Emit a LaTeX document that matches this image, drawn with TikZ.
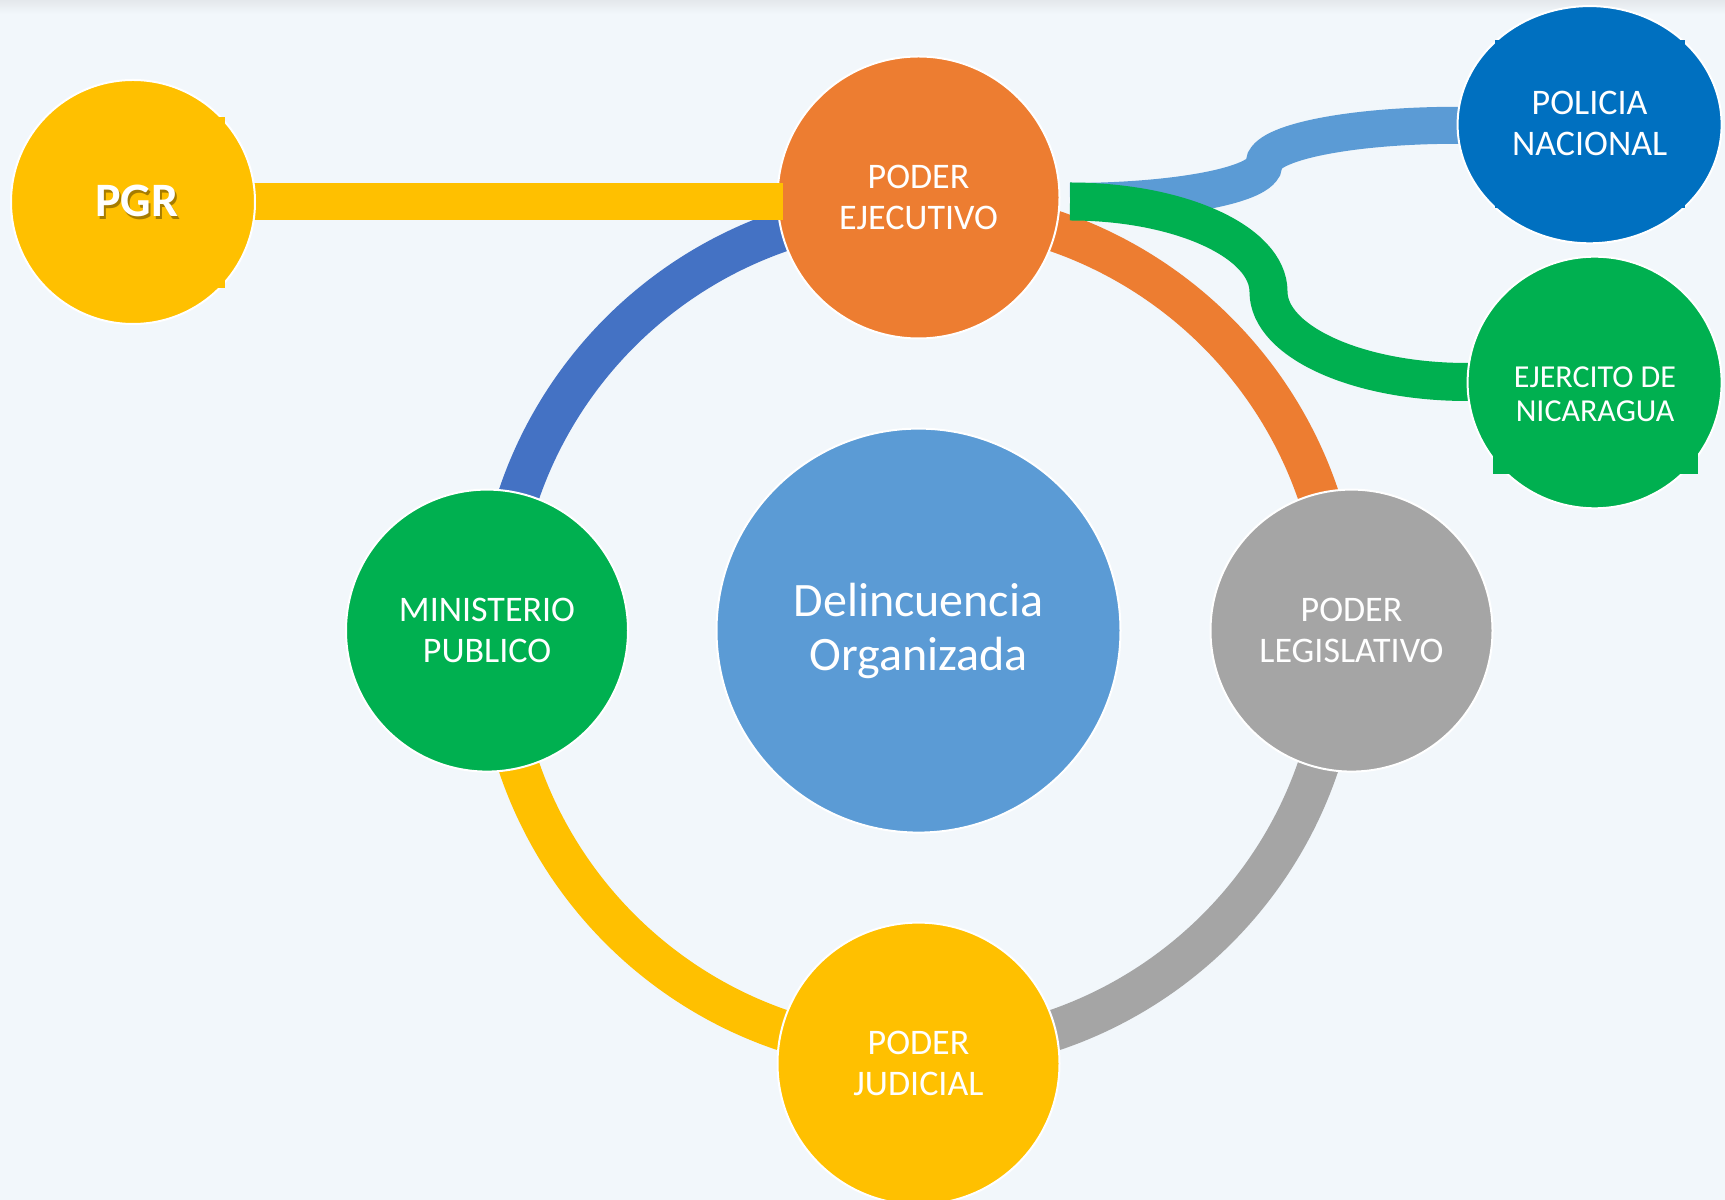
\documentclass[tikz,border=0pt]{standalone}
\usepackage{fontspec}
\setmainfont{Carlito}
\usetikzlibrary{shapes.geometric}
\definecolor{bgC}{HTML}{F2F7FB}
\definecolor{topC}{HTML}{E4E8EC}
\definecolor{orangeC}{HTML}{ED7D31}
\definecolor{yellowC}{HTML}{FFC000}
\definecolor{greenC}{HTML}{00B050}
\definecolor{grayC}{HTML}{A5A5A5}
\definecolor{ringBlueC}{HTML}{4472C4}
\definecolor{skyC}{HTML}{5B9BD5}
\definecolor{navyC}{HTML}{0070C0}
\pgfdeclarelayer{bg}
\pgfdeclarelayer{back}
\pgfdeclarelayer{mid}
\pgfdeclarelayer{front}
\pgfsetlayers{bg,back,main,mid,front}
\tikzset{
  bubble/.style={circle, draw=white, line width=1pt, inner sep=0pt, text=white, align=center, font=\fontsize{18}{20.3}\selectfont},
  oval/.style={ellipse, draw=white, line width=1pt, inner sep=0pt, text=white, align=center, font=\fontsize{18}{20.3}\selectfont},
  band/.style={line width=20.5pt},
  link/.style={line width=18.5pt},
}

\begin{document}
\begin{tikzpicture}[x=0.5pt,y=0.5pt]
    \begin{pgfonlayer}{bg}
    \fill[bgC] (0,0) rectangle (1725,1200);
    \shade[top color=topC, bottom color=bgC] (0,1186) rectangle (1725,1200);
    \end{pgfonlayer}
    \useasboundingbox (0,0) rectangle (1725,1200);
    \node[bubble, fill=orangeC, minimum size=141pt] (ejec) at (918.5,1002.5) {PODER\\EJECUTIVO};
    \node[bubble, fill=greenC, minimum size=141pt] (mini) at (487,569.4) {MINISTERIO\\PUBLICO};
    \node[bubble, fill=grayC, minimum size=141pt] (legis) at (1351.5,569.4) {PODER\\LEGISLATIVO};
    \node[bubble, fill=yellowC, minimum size=141pt] (judi) at (918.5,136.4) {PODER\\JUDICIAL};
    \node[bubble, fill=skyC, minimum size=202pt, font=\fontsize{24}{27}\selectfont] (core) at (918.5,569.4) {Delincuencia\\Organizada};
    \node[oval, fill=navyC, minimum width=132pt, minimum height=118.6pt] (poli) at (1589.6,1075.3) {};
    \fill[navyC] (1495,992) rectangle (1685,1160);
    \node[text=white, align=center, font=\fontsize{18}{20.3}\selectfont] at (1589.6,1076.7) {POLICIA\\NACIONAL};
    \node[oval, fill=greenC, minimum width=127pt, minimum height=125.8pt] (ejer) at (1594.6,817.5) {};
    \fill[greenC] (1493,884) rectangle (1698,726);
    \node[text=white, align=center, font=\fontsize{16}{17.2}\selectfont] at (1595,806) {EJERCITO DE\\NICARAGUA};
    \begin{pgfonlayer}{front}
    \node[bubble, fill=yellowC, minimum size=122pt] (pgr) at (133,998) {};
    \fill[yellowC] (60,912) rectangle (225,1083);
    \node[text=black, opacity=0.35, font=\bfseries\fontsize{24}{27}\selectfont] at (139,996) {PGR};
    \node[text=white, font=\bfseries\fontsize{24}{27}\selectfont] at (136.7,998.6) {PGR};
    \end{pgfonlayer}
    \coordinate (pgrEnd) at (783,998);
    \coordinate (ejecR) at (1070,998.5);
    \begin{pgfonlayer}{mid}
    \draw[link, yellowC] (pgr.center) -- (pgrEnd);
    \end{pgfonlayer}
    \begin{pgfonlayer}{back}
    \draw[band, orangeC] (core.center) ++(90:422) arc[start angle=90, end angle=0, radius=422];
    \draw[band, grayC] (core.center) ++(0:422) arc[start angle=0, end angle=-90, radius=422];
    \draw[band, yellowC] (core.center) ++(-90:422) arc[start angle=-90, end angle=-180, radius=422];
    \draw[band, ringBlueC] (core.center) ++(180:422) arc[start angle=180, end angle=90, radius=422];
    \draw[link, skyC] (ejecR) arc[start angle=270, end angle=360, x radius=194, y radius=37.5]
        arc[start angle=180, end angle=90, x radius=193, y radius=38.7] -- (poli.center);
    \draw[line width=19pt, greenC] (ejecR) arc[start angle=90, end angle=0, x radius=198.5, y radius=90.2]
        arc[start angle=180, end angle=270, x radius=198.5, y radius=90.3] -- (ejer.center);
    \end{pgfonlayer}
\end{tikzpicture}
\end{document}
